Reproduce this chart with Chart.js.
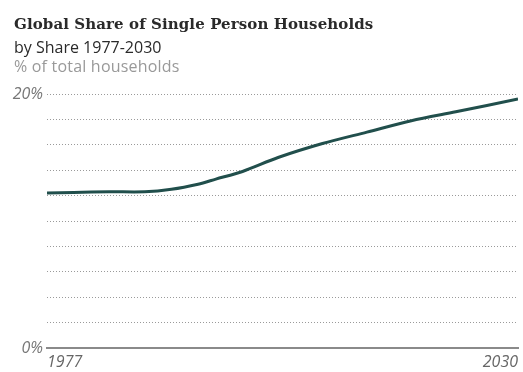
<!DOCTYPE html>
<html>
<head>
<meta charset="utf-8">
<script src="https://cdn.jsdelivr.net/npm/chart.js@4"></script>
<style>
  html, body { margin: 0; padding: 0; background: #fff; }
  #wrap { position: relative; width: 523px; height: 372px; overflow: hidden; }
  .hd { position: absolute; left: 14px; z-index: 2; white-space: nowrap; }
  .t1 { top: 15px; font: bold 15px "DejaVu Serif", serif; color: #2a2a2a; letter-spacing: 0.1px; }
  .t2 { top: 36px; font: 16px "Open Sans", sans-serif; color: #2a2a2a; }
  .t3 { top: 55px; font: 16px "Open Sans", sans-serif; color: #999; letter-spacing: 0.2px; }
  canvas { position: absolute; left: 0; top: 0; }
</style>
</head>
<body>
<div id="wrap">
  <div class="hd t1">Global Share of Single Person Households</div>
  <div class="hd t2">by Share 1977-2030</div>
  <div class="hd t3">% of total households</div>
  <canvas id="shareChart" width="523" height="372"></canvas>
</div>
<script>
// Share of single person households
const years = [1977, 1980, 1984, 1988, 1991, 1994, 1996, 1999, 2003, 2008, 2013, 2018, 2023, 2030];
const shares = [12.2, 12.25, 12.3, 12.3, 12.5, 12.9, 13.3, 13.9, 15.0, 16.1, 17.0, 17.9, 18.6, 19.6];
const xTicks = [1977, 2030];
const yLabels = { 0: '0%', 20: '20%' };

const points = years.map((y, i) => ({ x: y, y: shares[i] }));

const ctx = document.getElementById('shareChart').getContext('2d');
const chart = new Chart(ctx, {
    type: 'line',
    data: {
        datasets: [{
            label: 'Single person households',
            data: points,
            borderColor: '#214f4c',
            borderWidth: 3,
            tension: 0.3,
            pointRadius: 0,
            fill: false
        }]
    },
    options: {
        responsive: false,
        animation: false,
        layout: { padding: { top: 94, right: 2, left: 0, bottom: 0 } },
        plugins: {
            legend: { display: false },
            tooltip: { enabled: false }
        },
        scales: {
            x: {
                type: 'linear',
                min: 1977,
                max: 2030,
                afterBuildTicks: (scale) => {
                    scale.ticks = xTicks.map(v => ({ value: v }));
                },
                afterFit: (scale) => { scale.height = 24; },
                grid: { display: false, drawTicks: false },
                border: { display: true, color: '#8a8a8a', width: 2 },
                ticks: {
                    align: 'inner',
                    padding: 5,
                    maxRotation: 0,
                    color: '#666',
                    font: { family: 'Open Sans', size: 16, style: 'italic' },
                    callback: (v) => String(v)
                }
            },
            y: {
                min: 0,
                max: 20,
                afterFit: (scale) => { scale.width = 47; },
                grid: {
                    drawTicks: false,
                    color: (c) => c.tick && c.tick.value === 0 ? 'rgba(0,0,0,0)' : '#9a9a9a',
                    lineWidth: 1
                },
                border: { display: false, dash: [1, 2] },
                ticks: {
                    stepSize: 2,
                    padding: 4,
                    color: '#777',
                    font: { family: 'Open Sans', size: 16, style: 'italic' },
                    callback: (v) => yLabels[v] || ''
                }
            }
        }
    }
});
</script>
</body>
</html>
